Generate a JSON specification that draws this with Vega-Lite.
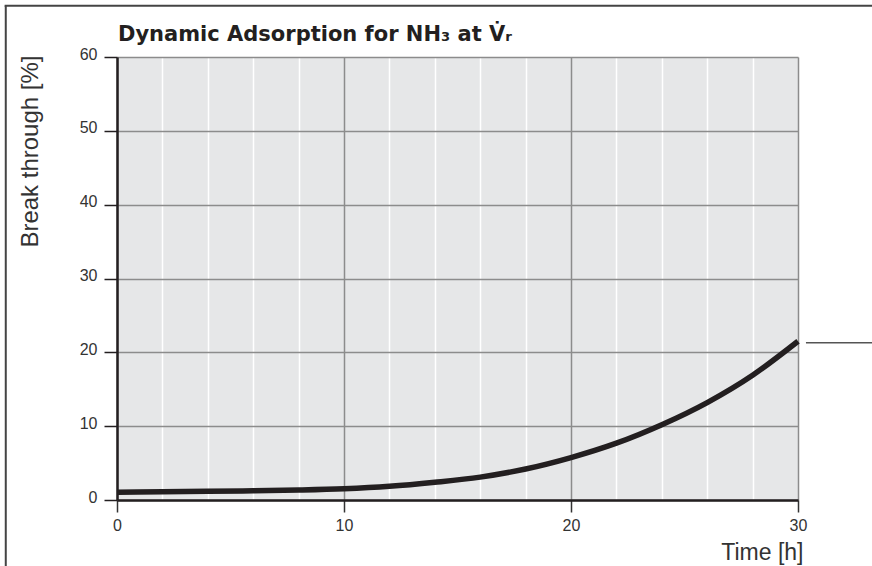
{
  "$schema": "https://vega.github.io/schema/vega-lite/v6.json",
  "width": 681,
  "height": 443,
  "autosize": {"type": "none"},
  "padding": {"left": 117, "top": 57, "right": 74, "bottom": 66},
  "background": "white",
  "config": {
    "font": "Liberation Sans",
    "view": {"fill": "#e6e7e8", "stroke": null}
  },
  "datasets": {
    "curve": [
      {"time": 0, "breakthrough": 1.05},
      {"time": 2, "breakthrough": 1.12},
      {"time": 4, "breakthrough": 1.18},
      {"time": 6, "breakthrough": 1.25},
      {"time": 8, "breakthrough": 1.35},
      {"time": 10, "breakthrough": 1.52},
      {"time": 12, "breakthrough": 1.85},
      {"time": 14, "breakthrough": 2.4},
      {"time": 16, "breakthrough": 3.1},
      {"time": 18, "breakthrough": 4.2},
      {"time": 20, "breakthrough": 5.75},
      {"time": 22, "breakthrough": 7.7},
      {"time": 24, "breakthrough": 10.2},
      {"time": 26, "breakthrough": 13.2},
      {"time": 28, "breakthrough": 16.9},
      {"time": 30, "breakthrough": 21.5}
    ],
    "heading": [{"label": "Dynamic Adsorption for NH₃ at V̇ᵣ"}]
  },
  "layer": [
    {
      "data": {"name": "curve"},
      "mark": {"type": "line", "interpolate": "monotone", "stroke": "#231f20", "strokeWidth": 5.5, "clip": false},
      "encoding": {
        "x": {
          "field": "time",
          "type": "quantitative",
          "scale": {"domain": [0, 30], "nice": false, "zero": false},
          "axis": {
            "values": [0, 2, 4, 6, 8, 10, 12, 14, 16, 18, 20, 22, 24, 26, 28, 30],
            "labelExpr": "datum.value % 10 === 0 ? datum.label : ''",
            "title": "Time [h]",
            "titleX": 686,
            "titleY": 59,
            "titleAlign": "right",
            "titleBaseline": "alphabetic",
            "titleFontSize": 23,
            "titleFontWeight": "normal",
            "titleColor": "#333333",
            "labelFontSize": 16,
            "labelColor": "#333333",
            "labelPadding": 5,
            "labelFlush": false,
            "labelOverlap": false,
            "tickSize": 12,
            "tickWidth": 1.5,
            "tickColor": "#333333",
            "tickOpacity": {"condition": {"test": "datum.value % 10 === 0", "value": 1}, "value": 0},
            "domainColor": "#231f20",
            "domainWidth": 2.5,
            "grid": true,
            "gridColor": {"condition": {"test": "datum.value % 10 === 0", "value": "#8c8c8c"}, "value": "#ffffff"},
            "gridWidth": 1.5,
            "gridOpacity": 1
          }
        },
        "y": {
          "field": "breakthrough",
          "type": "quantitative",
          "scale": {"domain": [0, 60], "nice": false},
          "axis": {
            "values": [0, 10, 20, 30, 40, 50, 60],
            "title": "Break through [%]",
            "titleAngle": -90,
            "titleX": -80,
            "titleY": -2,
            "titleAlign": "right",
            "titleBaseline": "alphabetic",
            "titleFontSize": 24,
            "titleFontWeight": "normal",
            "titleColor": "#333333",
            "labelFontSize": 16,
            "labelColor": "#333333",
            "labelPadding": 7,
            "labelBaseline": "middle",
            "labelOffset": -3,
            "labelFlush": false,
            "labelOverlap": false,
            "tickSize": 13,
            "tickWidth": 1.5,
            "tickColor": "#231f20",
            "domainColor": "#231f20",
            "domainWidth": 2.5,
            "grid": true,
            "gridColor": "#8c8c8c",
            "gridWidth": 1.5,
            "gridOpacity": 1
          }
        }
      }
    },
    {
      "data": {"name": "heading"},
      "mark": {"type": "text", "align": "left", "baseline": "alphabetic", "dx": 1, "dy": -16, "fontSize": 21, "fontWeight": "bold", "font": "DejaVu Sans", "color": "#231f20", "clip": false},
      "encoding": {
        "x": {"datum": 0, "type": "quantitative"},
        "y": {"datum": 60, "type": "quantitative"},
        "text": {"field": "label"}
      }
    },
    {
      "data": {"name": "heading"},
      "mark": {"type": "rule", "stroke": "#555555", "strokeWidth": 1.5, "clip": false},
      "encoding": {
        "x": {"datum": 30.35, "type": "quantitative"},
        "x2": {"datum": 33.6},
        "y": {"datum": 21.3, "type": "quantitative"}
      }
    },
    {
      "data": {"name": "heading"},
      "mark": {"type": "rule", "stroke": "#444444", "strokeWidth": 2, "clip": false},
      "encoding": {
        "x": {"datum": -4.9, "type": "quantitative"},
        "y": {"datum": 66.95, "type": "quantitative"},
        "y2": {"datum": -10}
      }
    },
    {
      "data": {"name": "heading"},
      "mark": {"type": "rule", "stroke": "#444444", "strokeWidth": 2, "clip": false},
      "encoding": {
        "x": {"datum": -4.95, "type": "quantitative"},
        "x2": {"datum": 36},
        "y": {"datum": 66.95, "type": "quantitative"}
      }
    }
  ]
}
